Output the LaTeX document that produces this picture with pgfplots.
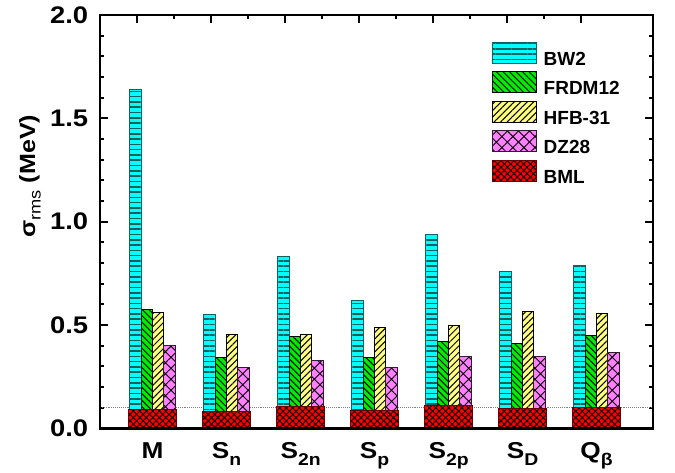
\documentclass[border=0pt]{standalone}
\usepackage{fontspec}
\setmainfont{Liberation Sans}[FakeStretch=1.14]
\newfontfamily\legfont{Liberation Sans}
\usepackage{pgfplots}
\pgfplotsset{compat=1.18}
\usetikzlibrary{patterns.meta}

\definecolor{cbw}{RGB}{0,255,255}
\definecolor{cbwl}{RGB}{20,95,95}
\definecolor{cfr}{RGB}{0,235,0}
\definecolor{chf}{RGB}{255,255,128}
\definecolor{cdz}{RGB}{255,128,255}
\definecolor{cbm}{RGB}{255,0,0}

\newcommand{\sub}[1]{\raisebox{-7pt}{\fontsize{17}{17}\selectfont #1}}

\begin{document}
\begin{tikzpicture}
\begin{axis}[
  scale only axis,
  width=553pt, height=413.3pt,
  xmin=0.2885, xmax=7.763,
  ymin=0, ymax=2,
  ybar,
  bar width=0.1535,
  legend image code/.code={\draw[#1] (0pt,-3.7pt) rectangle (44pt,17.3pt);},
  axis line style={line width=2.6pt},
  tick align=inside,
  xtick={1,...,7},
  xticklabels={M, S\sub{n}, S\sub{2n}, S\sub{p}, S\sub{2p}, S\sub{D}, Q\sub{β}},
  xtick style={draw=none},
  xticklabel style={anchor=base, inner sep=0pt, yshift=-30.7pt, font=\fontsize{23}{23}\selectfont\bfseries},
  ytick={0,0.5,1,1.5,2},
  minor y tick num=4,
  ytick pos=both,
  major tick length=8pt,
  minor tick length=4.5pt,
  every tick/.style={black, line width=2.2pt},
  yticklabel style={anchor=east, inner sep=0pt, xshift=-11.7pt, font=\fontsize{24}{24}\selectfont\bfseries},
  /pgf/number format/assume math mode=true,
  /pgf/number format/fixed,
  /pgf/number format/fixed zerofill,
  /pgf/number format/precision=1,
  ylabel={σ\raisebox{-5.5pt}{\mdseries\fontsize{16}{16}\selectfont rms} (MeV)},
  ylabel style={at={(rel axis cs:-0.1266,0.61)}, anchor=center, font=\fontsize{22}{22}\selectfont\bfseries},
  legend style={at={(rel axis cs:0.7083,0.9354)}, anchor=north west, draw=none, fill=none,
    inner sep=0pt, outer sep=0pt, row sep=4.3pt,
    nodes={inner sep=0pt, font=\legfont\fontsize{19}{19}\selectfont\bfseries},
    /tikz/every odd column/.append style={column sep=7pt}},
  legend cell align=left,
]
\coordinate (O) at (rel axis cs:0,0);
\addplot[sharp plot, forget plot, gray, densely dotted, line width=0.9pt] coordinates {(0.2885,0.1) (7.763,0.1)};

\addplot[fill=cbw, draw=cbwl, line width=1pt, bar shift=-0.2303,
  postaction={pattern={Lines[angle=0,distance=5.3pt,line width=1.6pt]}, pattern color=cbwl}]
  coordinates {(1,1.640) (2,0.553) (3,0.830) (4,0.619) (5,0.939) (6,0.760) (7,0.787)};
\addlegendentry{BW2}

\addplot[fill=cfr, draw=black, line width=1pt, bar shift=-0.0768,
  postaction={pattern={Lines[angle=-45,distance=4.6pt,line width=1pt]}, pattern color=black}]
  coordinates {(1,0.577) (2,0.342) (3,0.443) (4,0.343) (5,0.419) (6,0.411) (7,0.451)};
\addlegendentry{FRDM12}

\addplot[fill=chf, draw=black, line width=1pt, bar shift=0.0768,
  postaction={pattern={Lines[angle=45,distance=4.6pt,line width=1pt]}, pattern color=black}]
  coordinates {(1,0.561) (2,0.453) (3,0.456) (4,0.489) (5,0.497) (6,0.566) (7,0.556)};
\addlegendentry{HFB-31}

\addplot[fill=cdz, draw=black!80!cdz, line width=1pt, bar shift=0.2303,
  postaction={pattern={Hatch[angle=45,distance=7.8pt,line width=0.9pt]}, pattern color=black}]
  coordinates {(1,0.400) (2,0.295) (3,0.327) (4,0.293) (5,0.347) (6,0.347) (7,0.368)};
\addlegendentry{DZ28}

\addplot[fill=cbm, draw=black!60!red, line width=1pt, bar shift=0, bar width=0.64,
  postaction={pattern={Hatch[angle=45,distance=4.6pt,line width=0.9pt]}, pattern color=black}]
  coordinates {(1,0.089) (2,0.080) (3,0.105) (4,0.085) (5,0.111) (6,0.098) (7,0.100)};
\addlegendentry{BML}
\end{axis}
\begin{axis}[
  scale only axis,
  width=553pt, height=413.3pt,
  xmin=0.2885, xmax=7.763,
  ymin=0, ymax=2,
  axis line style={line width=2.6pt},
  tick align=inside,
  xtick={0.785,1.785,...,6.785},
  minor x tick num=1,
  xtick pos=right,
  xticklabels={},
  ytick=\empty,
  major tick length=8pt,
  minor tick length=4.5pt,
  every tick/.style={black, line width=2.2pt},
]
\end{axis}
\pgfresetboundingbox
\path (O) ++(-100pt,-44.7pt) rectangle ++(675pt,473pt);
\end{tikzpicture}
\end{document}
